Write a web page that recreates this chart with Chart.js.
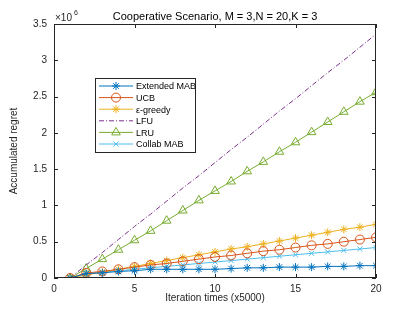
<!DOCTYPE html>
<html lang="en">
<head>
  <meta charset="UTF-8" />
  <title>Cooperative Scenario</title>
  <script src="https://cdn.jsdelivr.net/npm/chart.js"></script>
  <style>
    html, body { margin: 0; padding: 0; background: #fff; }
    canvas { display: block; }
  </style>
</head>
<body>
  <canvas id="grafico" width="415" height="312"></canvas>
  <script>
    // iteration index (x5000)
    const iteraciones = [1, 2, 3, 4, 5, 6, 7, 8, 9, 10, 11, 12, 13, 14, 15, 16, 17, 18, 19, 20];
    // accumulated regret, in units of 1e6
    const extendedMab = [0, 0.06, 0.07, 0.09, 0.10, 0.12, 0.12, 0.12, 0.12, 0.12, 0.13, 0.14, 0.14, 0.15, 0.15, 0.15, 0.16, 0.16, 0.17, 0.17];
    const ucb = [0, 0.07, 0.09, 0.12, 0.15, 0.18, 0.20, 0.23, 0.26, 0.29, 0.31, 0.34, 0.37, 0.39, 0.42, 0.45, 0.47, 0.50, 0.53, 0.56];
    const epsGreedy = [0, 0.04, 0.08, 0.12, 0.16, 0.20, 0.24, 0.28, 0.32, 0.36, 0.40, 0.43, 0.47, 0.51, 0.55, 0.59, 0.63, 0.67, 0.70, 0.74];
    const lfu = [0, 0.18, 0.35, 0.53, 0.71, 0.88, 1.06, 1.24, 1.41, 1.59, 1.77, 1.94, 2.12, 2.30, 2.47, 2.65, 2.83, 3.00, 3.18, 3.36];
    const lru = [0, 0.13, 0.26, 0.39, 0.52, 0.65, 0.79, 0.93, 1.07, 1.20, 1.33, 1.47, 1.60, 1.74, 1.87, 2.01, 2.15, 2.29, 2.43, 2.56];
    const collabMab = [0, 0.06, 0.08, 0.10, 0.12, 0.14, 0.16, 0.18, 0.20, 0.22, 0.24, 0.26, 0.28, 0.30, 0.32, 0.34, 0.36, 0.38, 0.40, 0.42];
    const xTicks = [0, 5, 10, 15, 20];
    const yTicks = [0, 0.5, 1, 1.5, 2, 2.5, 3, 3.5];

    const fuente = "Liberation Sans, Arial, sans-serif";
    const ejeColor = "#262626";

    function serie(label, datos, color, marcador, radio, dash) {
      return {
        label: label,
        data: iteraciones.map((x, i) => ({ x: x, y: datos[i] })),
        borderColor: color,
        backgroundColor: "rgba(0,0,0,0)",
        borderWidth: 1,
        borderDash: dash || [],
        pointStyle: marcador || false,
        pointRadius: marcador ? radio : 0,
        pointBorderColor: color,
        pointBackgroundColor: "rgba(0,0,0,0)",
        pointBorderWidth: 1,
        tension: 0
      };
    }

    const datasets = [
      serie("Extended MAB", extendedMab, "#0072BD", "star", 4),
      serie("UCB", ucb, "#D95319", "circle", 4.5),
      serie("ε-greedy", epsGreedy, "#EDB120", "star", 4),
      serie("LFU", lfu, "#7E2F8E", null, 0, [5, 2, 1, 2]),
      serie("LRU", lru, "#77AC30", "triangle", 5),
      serie("Collab MAB", collabMab, "#4DBEEE", "crossRot", 3.5)
    ];

    function dibujarMarcador(ctx, estilo, r, x, y) {
      ctx.beginPath();
      if (estilo === "circle") {
        ctx.arc(x, y, r, 0, Math.PI * 2);
      } else if (estilo === "triangle") {
        ctx.moveTo(x, y - r);
        ctx.lineTo(x + r * 0.87, y + r * 0.5);
        ctx.lineTo(x - r * 0.87, y + r * 0.5);
        ctx.closePath();
      } else if (estilo === "crossRot" || estilo === "star") {
        const d = r * 0.707;
        ctx.moveTo(x - d, y - d); ctx.lineTo(x + d, y + d);
        ctx.moveTo(x + d, y - d); ctx.lineTo(x - d, y + d);
        if (estilo === "star") {
          ctx.moveTo(x, y - r); ctx.lineTo(x, y + r);
          ctx.moveTo(x - r, y); ctx.lineTo(x + r, y);
        }
      }
      ctx.stroke();
    }

    const decoracion = {
      id: "decoracion",
      afterDraw(chart) {
        const ctx = chart.ctx;
        const a = chart.chartArea;
        const sx = chart.scales.x, sy = chart.scales.y;
        ctx.save();
        // box
        ctx.strokeStyle = ejeColor;
        ctx.lineWidth = 1;
        ctx.strokeRect(a.left + 0.5, a.top + 0.5, a.right - a.left - 1, a.bottom - a.top - 1);
        // inner ticks
        ctx.beginPath();
        xTicks.forEach(v => {
          const px = Math.round(sx.getPixelForValue(v)) + 0.5;
          ctx.moveTo(px, a.bottom); ctx.lineTo(px, a.bottom - 4);
          ctx.moveTo(px, a.top); ctx.lineTo(px, a.top + 4);
        });
        yTicks.forEach(v => {
          const py = Math.round(sy.getPixelForValue(v)) + 0.5;
          ctx.moveTo(a.left, py); ctx.lineTo(a.left + 4, py);
          ctx.moveTo(a.right, py); ctx.lineTo(a.right - 4, py);
        });
        ctx.stroke();

        // texts
        ctx.fillStyle = "#000";
        ctx.font = "11px " + fuente;
        ctx.textAlign = "center";
        ctx.textBaseline = "alphabetic";
        ctx.fillText("Cooperative Scenario, M = 3,N = 20,K = 3", (a.left + a.right) / 2, 20);
        ctx.fillStyle = ejeColor;
        ctx.font = "10px " + fuente;
        ctx.fillText("Iteration times (x5000)", (a.left + a.right) / 2, 301);
        ctx.save();
        ctx.translate(17, (a.top + a.bottom) / 2);
        ctx.rotate(-Math.PI / 2);
        ctx.fillText("Accumulated regret", 0, 0);
        ctx.restore();
        ctx.textAlign = "left";
        ctx.fillText("×10", a.left + 1, 21);
        ctx.font = "7px " + fuente;
        ctx.fillText("6", a.left + 20, 15);

        // legend
        const lx = 95, ly = 78, lw = 100, lh = 74;
        ctx.fillStyle = "#fff";
        ctx.fillRect(lx, ly, lw, lh);
        ctx.strokeStyle = "#262626";
        ctx.strokeRect(lx + 0.5, ly + 0.5, lw, lh);
        ctx.font = "9px " + fuente;
        ctx.textBaseline = "middle";
        chart.data.datasets.forEach((ds, i) => {
          const y = ly + 8 + i * 11.6;
          ctx.strokeStyle = ds.borderColor;
          ctx.lineWidth = 1;
          ctx.setLineDash(ds.borderDash);
          ctx.beginPath();
          ctx.moveTo(lx + 4, y); ctx.lineTo(lx + 38, y);
          ctx.stroke();
          ctx.setLineDash([]);
          if (ds.pointStyle) dibujarMarcador(ctx, ds.pointStyle, ds.pointRadius, lx + 21, y);
          ctx.fillStyle = "#000";
          ctx.fillText(ds.label, lx + 41, y + 1);
        });
        ctx.restore();
      }
    };

    new Chart(document.getElementById("grafico"), {
      type: "line",
      data: { datasets: datasets },
      options: {
        responsive: false,
        animation: false,
        layout: { padding: { top: 24, right: 39, left: 0, bottom: 0 } },
        plugins: {
          legend: { display: false },
          title: { display: false },
          tooltip: { enabled: false }
        },
        scales: {
          x: {
            type: "linear",
            min: 0,
            max: 20,
            afterFit: s => { s.height = 34; },
            afterBuildTicks: s => { s.ticks = xTicks.map(v => ({ value: v })); },
            grid: { drawOnChartArea: false, drawTicks: false },
            border: { display: false },
            ticks: { color: ejeColor, font: { family: fuente, size: 10 }, padding: 5, maxRotation: 0, callback: v => String(v) }
          },
          y: {
            min: 0,
            max: 3.5,
            afterFit: s => { s.width = 54; },
            afterBuildTicks: s => { s.ticks = yTicks.map(v => ({ value: v })); },
            grid: { drawOnChartArea: false, drawTicks: false },
            border: { display: false },
            ticks: { color: ejeColor, font: { family: fuente, size: 10 }, padding: 7, callback: v => String(v) }
          }
        }
      },
      plugins: [decoracion]
    });
  </script>
</body>
</html>
